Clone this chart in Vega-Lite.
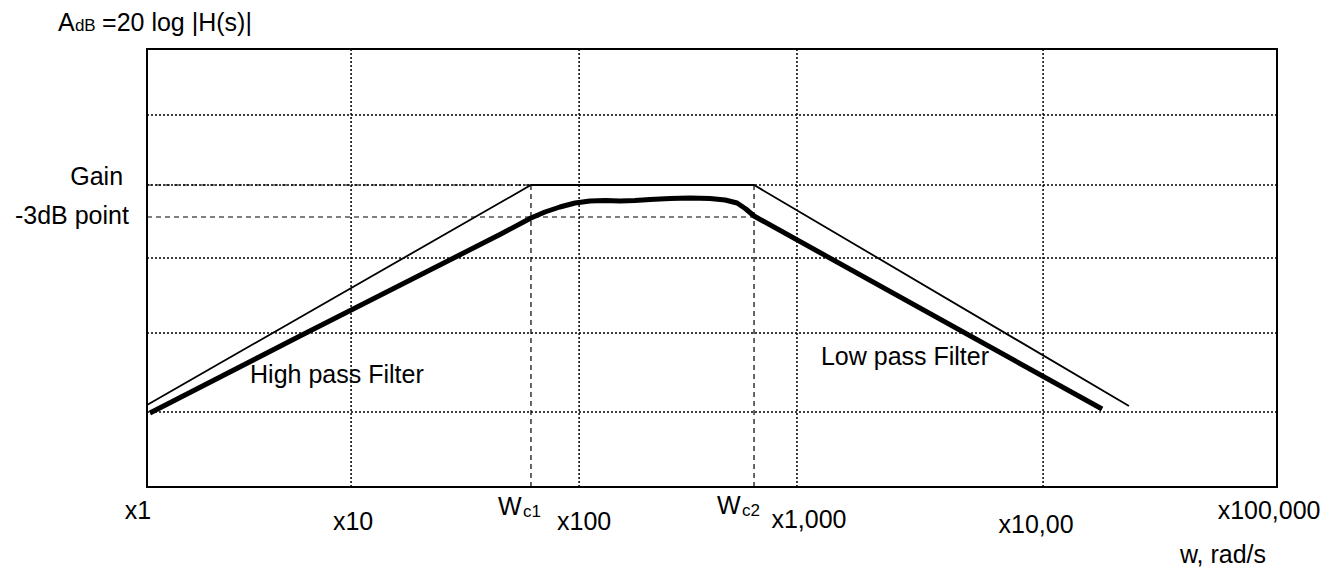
{
  "$schema": "https://vega.github.io/schema/vega-lite/v6.json",
  "width": 1130,
  "height": 438,
  "autosize": {"type": "none"},
  "padding": {"left": 147, "top": 49, "right": 64, "bottom": 81},
  "background": "white",
  "config": {
    "view": {"stroke": "black", "strokeWidth": 2},
    "text": {"font": "Liberation Sans", "color": "black"}
  },
  "datasets": {
    "vgrid": [{"x": 0.903}, {"x": 1.912}, {"x": 2.876}, {"x": 3.965}],
    "hgrid": [{"y": 372}, {"y": 302}, {"y": 229}, {"y": 154}, {"y": 75}],
    "dashed": [
      {"x": 0, "x2": 1.699, "y": 302, "y2": 302},
      {"x": 0, "x2": 2.686, "y": 270, "y2": 270},
      {"x": 1.699, "x2": 1.699, "y": 0, "y2": 302},
      {"x": 2.686, "x2": 2.686, "y": 0, "y2": 302}
    ],
    "asymptote": [
      {"x": 0, "y": 82},
      {"x": 1.699, "y": 302},
      {"x": 2.686, "y": 302},
      {"x": 4.345, "y": 81}
    ],
    "response": [
      {"x": 0.013, "y": 74},
      {"x": 0.677, "y": 151},
      {"x": 1.566, "y": 253},
      {"x": 1.699, "y": 269},
      {"x": 1.761, "y": 275},
      {"x": 1.827, "y": 280},
      {"x": 1.894, "y": 284},
      {"x": 1.960, "y": 286},
      {"x": 2.027, "y": 286.5},
      {"x": 2.093, "y": 286},
      {"x": 2.159, "y": 286.5},
      {"x": 2.226, "y": 287.5},
      {"x": 2.314, "y": 288.5},
      {"x": 2.403, "y": 289},
      {"x": 2.491, "y": 288.5},
      {"x": 2.558, "y": 287},
      {"x": 2.611, "y": 284},
      {"x": 2.650, "y": 278},
      {"x": 2.686, "y": 271},
      {"x": 4.226, "y": 78}
    ],
    "textLeft": [
      {"x": -0.394, "y": 456, "label": "A"},
      {"x": -0.199, "y": 456, "label": "=20 log |H(s)|"},
      {"x": 0.456, "y": 104, "label": "High pass Filter"},
      {"x": 2.982, "y": 122, "label": "Low pass Filter"},
      {"x": 1.553, "y": -28, "label": "W"},
      {"x": 2.522, "y": -27, "label": "W"}
    ],
    "textSub": [
      {"x": -0.319, "y": 456, "label": "dB"},
      {"x": 1.664, "y": -30, "label": "c1"},
      {"x": 2.633, "y": -29, "label": "c2"}
    ],
    "textRight": [
      {"x": -0.106, "y": 302, "label": "Gain"},
      {"x": -0.08, "y": 263, "label": "-3dB point"}
    ],
    "textCenter": [
      {"x": -0.04, "y": -32, "label": "x1"},
      {"x": 0.912, "y": -43, "label": "x10"},
      {"x": 1.934, "y": -43, "label": "x100"},
      {"x": 2.929, "y": -41, "label": "x1,000"},
      {"x": 3.934, "y": -46, "label": "x10,00"},
      {"x": 4.965, "y": -32, "label": "x100,000"},
      {"x": 4.761, "y": -76, "label": "w, rad/s"}
    ]
  },
  "layer": [
    {
      "data": {"name": "vgrid"},
      "mark": {"type": "rule", "color": "black", "strokeWidth": 1.5, "strokeDash": [2, 2]},
      "encoding": {
        "x": {"field": "x", "type": "quantitative", "scale": {"domain": [0, 5], "nice": false, "zero": false}, "axis": null}
      }
    },
    {
      "data": {"name": "hgrid"},
      "mark": {"type": "rule", "color": "black", "strokeWidth": 1.5, "strokeDash": [2, 2]},
      "encoding": {
        "y": {"field": "y", "type": "quantitative", "scale": {"domain": [0, 438], "nice": false, "zero": false}, "axis": null}
      }
    },
    {
      "data": {"name": "dashed"},
      "mark": {"type": "rule", "color": "black", "strokeWidth": 1.2, "strokeDash": [5, 4]},
      "encoding": {
        "x": {"field": "x", "type": "quantitative", "scale": {"domain": [0, 5], "nice": false, "zero": false}, "axis": null},
        "x2": {"field": "x2"},
        "y": {"field": "y", "type": "quantitative", "scale": {"domain": [0, 438], "nice": false, "zero": false}, "axis": null},
        "y2": {"field": "y2"}
      }
    },
    {
      "data": {"name": "asymptote"},
      "mark": {"type": "line", "color": "black", "strokeWidth": 1.8},
      "encoding": {
        "x": {"field": "x", "type": "quantitative", "scale": {"domain": [0, 5], "nice": false, "zero": false}, "axis": null},
        "y": {"field": "y", "type": "quantitative", "scale": {"domain": [0, 438], "nice": false, "zero": false}, "axis": null}
      }
    },
    {
      "data": {"name": "response"},
      "mark": {"type": "line", "color": "black", "strokeWidth": 5, "interpolate": "linear", "strokeCap": "butt", "strokeJoin": "round"},
      "encoding": {
        "x": {"field": "x", "type": "quantitative", "scale": {"domain": [0, 5], "nice": false, "zero": false}, "axis": null},
        "y": {"field": "y", "type": "quantitative", "scale": {"domain": [0, 438], "nice": false, "zero": false}, "axis": null}
      }
    },
    {
      "data": {"name": "textLeft"},
      "mark": {"type": "text", "align": "left", "baseline": "alphabetic", "fontSize": 25},
      "encoding": {
        "x": {"field": "x", "type": "quantitative", "axis": null},
        "y": {"field": "y", "type": "quantitative", "axis": null},
        "text": {"field": "label"}
      }
    },
    {
      "data": {"name": "textSub"},
      "mark": {"type": "text", "align": "left", "baseline": "alphabetic", "fontSize": 17},
      "encoding": {
        "x": {"field": "x", "type": "quantitative", "axis": null},
        "y": {"field": "y", "type": "quantitative", "axis": null},
        "text": {"field": "label"}
      }
    },
    {
      "data": {"name": "textRight"},
      "mark": {"type": "text", "align": "right", "baseline": "alphabetic", "fontSize": 25},
      "encoding": {
        "x": {"field": "x", "type": "quantitative", "axis": null},
        "y": {"field": "y", "type": "quantitative", "axis": null},
        "text": {"field": "label"}
      }
    },
    {
      "data": {"name": "textCenter"},
      "mark": {"type": "text", "align": "center", "baseline": "alphabetic", "fontSize": 25},
      "encoding": {
        "x": {"field": "x", "type": "quantitative", "axis": null},
        "y": {"field": "y", "type": "quantitative", "axis": null},
        "text": {"field": "label"}
      }
    }
  ]
}
